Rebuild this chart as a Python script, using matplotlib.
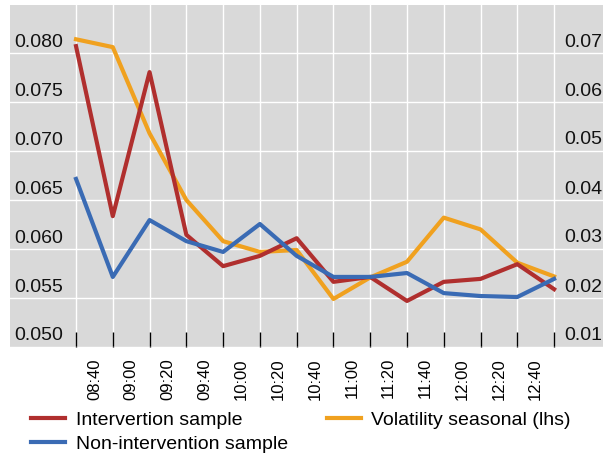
import matplotlib
matplotlib.use("Agg")
import matplotlib.pyplot as plt
from matplotlib.transforms import ScaledTranslation

plt.rcParams['font.family'] = ['Liberation Sans', 'DejaVu Sans']

time_labels = ["08:40", "09:00", "09:20", "09:40", "10:00", "10:20", "10:40",
               "11:00", "11:20", "11:40", "12:00", "12:20", "12:40"]

volatility_seasonal = [0.0814, 0.0806, 0.0718, 0.0650, 0.0608, 0.0597, 0.0599,
                       0.0549, 0.0571, 0.0587, 0.0632, 0.0620, 0.0586, 0.0572]
intervention = [0.0714, 0.0367, 0.0661, 0.0329, 0.0265, 0.0286, 0.0322,
                0.0233, 0.0243, 0.0194, 0.0233, 0.0239, 0.0269, 0.0218]
non_intervention = [0.0443, 0.0243, 0.0359, 0.0316, 0.0294, 0.0351, 0.0286,
                    0.0243, 0.0243, 0.0251, 0.0210, 0.0204, 0.0202, 0.0239]

left_ticks = [0.050, 0.055, 0.060, 0.065, 0.070, 0.075, 0.080]
right_ticks = [0.01, 0.02, 0.03, 0.04, 0.05, 0.06, 0.07]

RED = "#B02F2E"
BLUE = "#3A6BB4"
ORANGE = "#F0A11F"
BG = "#D9D9D9"

W, H = 603, 457
fig = plt.figure(figsize=(W / 100, H / 100), dpi=100)
ax = fig.add_axes([10 / W, 1 - 347 / H, 593 / W, 342 / H])
ax.set_facecolor(BG)
for s in ax.spines.values():
    s.set_visible(False)

x = list(range(len(volatility_seasonal)))
ax.set_xlim(-1.795, 14.33)
ax.set_ylim(0.050, 0.050 + 342 / 49 * 0.005)

ax2 = ax.twinx()
ax2.set_ylim(0.01, 0.01 + 342 / 49 * 0.01)
for s in ax2.spines.values():
    s.set_visible(False)

# grid
ax.set_yticks(left_ticks)
ax.set_xticks(x)
ax.grid(True, color="white", linewidth=1.0)
ax.set_axisbelow(True)

l_or, = ax.plot(x, volatility_seasonal, color=ORANGE, lw=3,
                label="Volatility seasonal (lhs)", zorder=3)
l_red, = ax2.plot(x, intervention, color=RED, lw=3, label="Intervertion sample", zorder=3)
l_blue, = ax2.plot(x, non_intervention, color=BLUE, lw=3, label="Non-intervention sample", zorder=3)

# x ticks: inward marks at boundaries, labels between
ax.tick_params(axis='x', which='major', direction='in', length=10.8, width=1.0,
               color='black', labelbottom=False)
ax.set_xticks([i + 0.5 for i in range(len(time_labels))], minor=True)
ax.set_xticklabels(time_labels, minor=True, rotation=90, fontsize=12)
ax.tick_params(axis='x', which='minor', length=0, pad=8)

# y tick labels inside plot, above grid lines
ax.tick_params(axis='y', length=0, labelleft=False)
ax2.set_yticks(right_ticks)
ax2.tick_params(axis='y', length=0, labelright=False)

off = ScaledTranslation(0, 11 / 100, fig.dpi_scale_trans)
for v in left_ticks:
    ax.text(4 / 593, v, f"{v:.3f}", transform=ax.get_yaxis_transform() + off,
            ha='left', va='center', fontsize=14, color='#111111')
for v in right_ticks:
    ax2.text(1 - 1 / 593, v, f"{v:.2f}", transform=ax2.get_yaxis_transform() + off,
             ha='right', va='center', fontsize=14, color='#111111')

leg = fig.legend(handles=[l_red, l_blue, l_or], ncol=2, loc='upper left',
                 bbox_to_anchor=(31 / W, 1 - 411 / H), frameon=False,
                 fontsize=14, handlelength=1.75, handletextpad=0.55,
                 columnspacing=2.0, labelspacing=0.35, borderpad=0, borderaxespad=0)

fig.savefig("out.png", dpi=100, facecolor='white')
